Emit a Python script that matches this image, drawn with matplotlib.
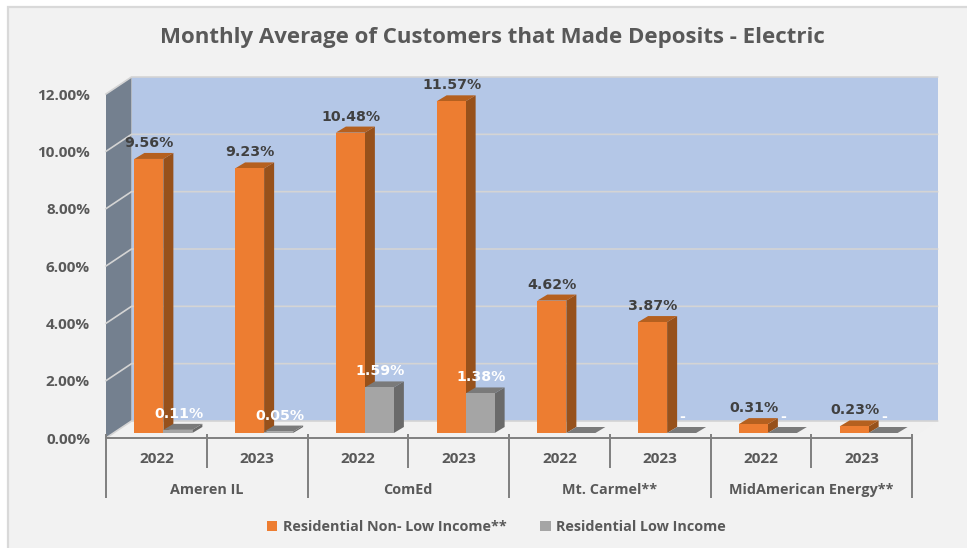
import matplotlib
matplotlib.use("Agg")
import matplotlib.pyplot as plt
from matplotlib.patches import Patch, Rectangle
from matplotlib.ticker import FormatStrFormatter

plt.rcParams['font.family'] = ['Open Sans', 'DejaVu Sans']

# ---- data ----
title = "Monthly Average of Customers that Made Deposits - Electric"
years = ["2022", "2023", "2022", "2023", "2022", "2023", "2022", "2023"]
companies = ["Ameren IL", "ComEd", "Mt. Carmel**", "MidAmerican Energy**"]
series_names = ["Residential Non- Low Income**", "Residential Low Income"]
non_low = [9.56, 9.23, 10.48, 11.57, 4.62, 3.87, 0.31, 0.23]
low = [0.11, 0.05, 1.59, 1.38, 0.0, 0.0, 0.0, 0.0]
low_labels = ["0.11%", "0.05%", "1.59%", "1.38%", "", "-", "-", "-"]
yticks = [0, 2, 4, 6, 8, 10, 12]

W, H = 967, 548
fig = plt.figure(figsize=(W / 100, H / 100), dpi=100, facecolor="white")

def frac(l, t, r, b):
    return [l / W, 1 - b / H, (r - l) / W, (b - t) / H]

x0 = frac(8, 7, W + 5, H + 5)
fig.patches.append(Rectangle((x0[0], x0[1]), x0[2], x0[3], transform=fig.transFigure,
                             facecolor="#f2f2f2", edgecolor="#d9d9d9", linewidth=1.6, zorder=-1))

ax = fig.add_axes(frac(106, 94, 912, 438))
ax.patch.set_alpha(0)
ax.set_xlim(0, len(years))
ax.set_ylim(0, 12)

PX = len(years) / 806.0   # data units per pixel, x
PY = 12 / 344.0           # data units per pixel, y
WALL_DX, WALL_DY = 25.5 * PX, 17 * PY
BASE_DX, BASE_DY = 7 * PX, 5 * PY
BAR_DX, BAR_DY = 10 * PX, 6 * PY
BAR_W = 29 * PX
GRID = "#d4d4d4"
xmax = len(years)

# walls and floor
ax.fill([WALL_DX, xmax + WALL_DX, xmax + WALL_DX, WALL_DX],
        [WALL_DY, WALL_DY, 12 + WALL_DY, 12 + WALL_DY],
        facecolor="#b4c7e7", edgecolor="none", clip_on=False, zorder=0.5)
ax.fill([0, WALL_DX, WALL_DX, 0], [0, WALL_DY, 12 + WALL_DY, 12],
        facecolor="#74808f", edgecolor="none", clip_on=False, zorder=0.6)
ax.fill([0, WALL_DX, xmax + WALL_DX, xmax], [0, WALL_DY, WALL_DY, 0],
        facecolor="#f1f1f1", edgecolor="none", clip_on=False, zorder=0.7)
for t in yticks:
    ax.plot([0, WALL_DX, xmax + WALL_DX], [t, t + WALL_DY, t + WALL_DY],
            color=GRID, lw=1.2, clip_on=False, zorder=0.8, solid_joinstyle="miter")

def bar3d(x_left, values, front, top, side, z):
    for i, v in enumerate(values):
        xl = i + x_left
        xr = xl + BAR_W
        yb = BASE_DY
        yt = BASE_DY + v
        ax.fill([xr, xr + BAR_DX, xr + BAR_DX, xr],
                [yb, yb + BAR_DY, yt + BAR_DY, yt],
                facecolor=side, edgecolor="none", clip_on=False, zorder=z)
        ax.fill([xl, xr, xr + BAR_DX, xl + BAR_DX],
                [yt, yt, yt + BAR_DY, yt + BAR_DY],
                facecolor=top, edgecolor="none", clip_on=False, zorder=z)
    ax.bar([i + x_left + BAR_W / 2 for i in range(len(values))], values, width=BAR_W,
           bottom=BASE_DY, color=front, edgecolor="none", clip_on=False, zorder=z + 0.5)

center = 0.5 + BASE_DX
bar3d(center - BAR_W, non_low, "#ed7d31", "#b5601f", "#97511b", 3)
bar3d(center, low, "#a5a5a5", "#7a7a7a", "#6a6a6a", 5)

LABEL_UP = 16 * PY
FS_LABEL = 10.2
for i, v in enumerate(non_low):
    ax.text(i + center - BAR_W / 2 + 0.5 * PX, BASE_DY + v + LABEL_UP, f"{v:.2f}%", ha="center", va="center",
            fontsize=FS_LABEL, fontweight="bold", family="DejaVu Sans", color="#404040", zorder=8, clip_on=False)
for i, (v, s) in enumerate(zip(low, low_labels)):
    ax.text(i + center + BAR_W / 2 + 1 * PX, BASE_DY + v + LABEL_UP, s, ha="center", va="center",
            fontsize=FS_LABEL, fontweight="bold", family="DejaVu Sans", color="white", zorder=8, clip_on=False)

# axes
for s in ["top", "left", "right"]:
    ax.spines[s].set_visible(False)
ax.spines["bottom"].set_color("#7f7f7f")
ax.spines["bottom"].set_linewidth(1.4)
ax.set_yticks(yticks)
ax.yaxis.set_major_formatter(FormatStrFormatter("%.2f%%"))
ax.tick_params(axis="y", length=0, pad=11.5, labelsize=11, labelcolor="#595959")
for lab in ax.get_yticklabels():
    lab.set_fontweight("bold")
ax.set_xticks([i + 0.5 for i in range(len(years))])
ax.set_xticklabels(years, fontsize=11, fontweight="bold", color="#595959")
ax.tick_params(axis="x", length=0, pad=10)

# category separators (two-level axis)
xt = ax.get_xaxis_transform()
for i in range(len(years) + 1):
    low_px = 60 if i % 2 == 0 else 30
    ax.plot([i, i], [4 / 344, -low_px / 344], transform=xt, color="#7f7f7f", lw=1.4,
            clip_on=False, zorder=2.6, solid_capstyle="butt")
for j, name in enumerate(companies):
    ax.text(2 * j + 1, -52 / 344, name, transform=xt, ha="center", va="center",
            fontsize=10.4, fontweight="bold", color="#595959")

fig.text(492.5 / W, 1 - 37.5 / H, title, ha="center", va="center", fontsize=16,
         fontweight="bold", color="#595959")

handles = [Patch(facecolor="#ed7d31", label=series_names[0]),
           Patch(facecolor="#a5a5a5", label=series_names[1])]
leg = fig.legend(handles=handles, loc="center", bbox_to_anchor=(496.5 / W, 1 - 527 / H), ncol=2,
                 frameon=False, handlelength=0.7, handleheight=0.7,
                 handletextpad=0.4, columnspacing=2.35, labelcolor="#595959",
                 prop={"weight": "bold", "size": 10.4})

fig.savefig("out.png", dpi=100, facecolor=fig.get_facecolor())
